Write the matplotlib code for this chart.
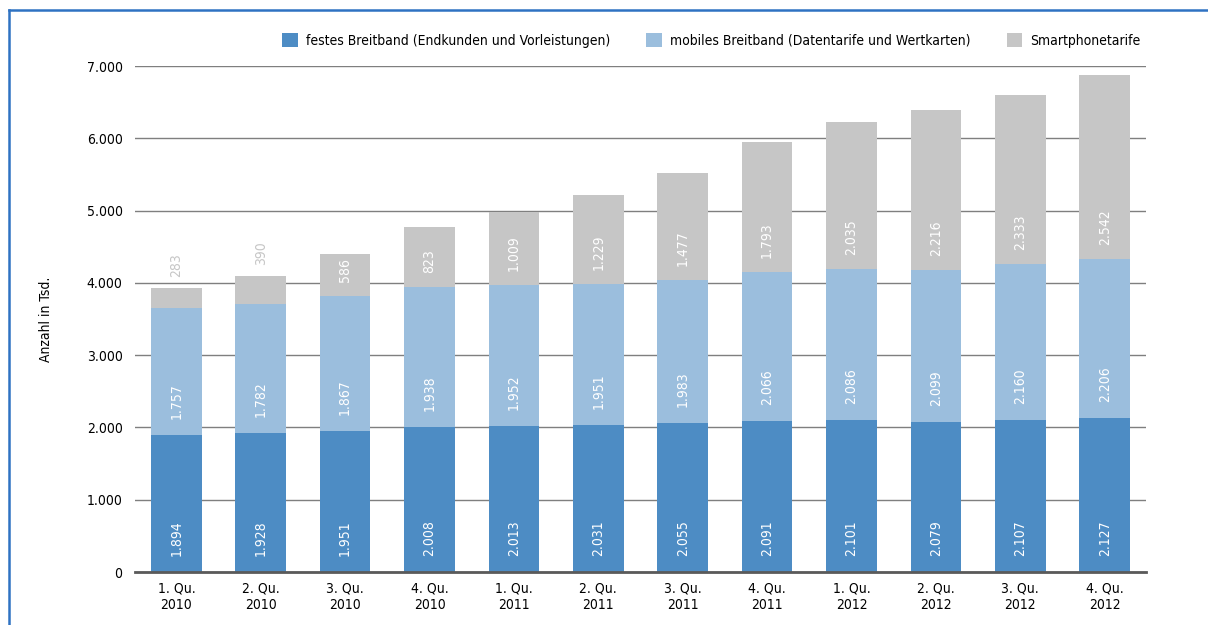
import matplotlib.pyplot as plt
import numpy as np
from matplotlib.lines import Line2D
from matplotlib import font_manager

# Data
quarters = ['1. Qu.\n2010', '2. Qu.\n2010', '3. Qu.\n2010', '4. Qu.\n2010',
            '1. Qu.\n2011', '2. Qu.\n2011', '3. Qu.\n2011', '4. Qu.\n2011',
            '1. Qu.\n2012', '2. Qu.\n2012', '3. Qu.\n2012', '4. Qu.\n2012']
festes = [1894, 1928, 1951, 2008, 2013, 2031, 2055, 2091, 2101, 2079, 2107, 2127]
mobiles = [1757, 1782, 1867, 1938, 1952, 1951, 1983, 2066, 2086, 2099, 2160, 2206]
smart = [283, 390, 586, 823, 1009, 1229, 1477, 1793, 2035, 2216, 2333, 2542]
series_names = ['festes Breitband (Endkunden und Vorleistungen)',
                'mobiles Breitband (Datentarife und Wertkarten)',
                'Smartphonetarife']
yticks = [0, 1000, 2000, 3000, 4000, 5000, 6000, 7000]

colors = ['#4d8cc4', '#9bbedd', '#c6c6c6']

# pick a condensed face if one is installed
condensed = [f for f in font_manager.fontManager.ttflist
             if f.stretch in ('condensed', 'semi-condensed', 'extra-condensed')
             or 'Narrow' in f.name or 'Condensed' in f.name]
plt.rcParams['font.family'] = ['DejaVu Sans']
if condensed:
    plt.rcParams['font.family'] = [condensed[0].name, 'DejaVu Sans']
    plt.rcParams['font.stretch'] = 'condensed'
fs = 10 if condensed else 9


def fmt(v):
    return f'{v:,}'.replace(',', '.')


fig = plt.figure(figsize=(12.08, 6.25), dpi=100)
ax = fig.add_axes([0.1118, 0.0848, 0.8369, 0.8096])

x = np.arange(len(quarters))
w = 0.6
ax.bar(x, festes, w, color=colors[0], label=series_names[0], zorder=2)
ax.bar(x, mobiles, w, bottom=festes, color=colors[1], label=series_names[1], zorder=2)
bottom3 = np.array(festes) + np.array(mobiles)
ax.bar(x, smart, w, bottom=bottom3, color=colors[2], label=series_names[2], zorder=2)

# value labels
for i in range(len(x)):
    ax.annotate(fmt(festes[i]), (x[i], 0), xytext=(0, 16), textcoords='offset pixels',
                rotation=90, ha='center', va='bottom', color='white', fontsize=fs, zorder=3)
    ax.annotate(fmt(mobiles[i]), (x[i], festes[i]), xytext=(0, 16), textcoords='offset pixels',
                rotation=90, ha='center', va='bottom', color='white', fontsize=fs, zorder=3)
    if smart[i] < 500:
        ax.annotate(fmt(smart[i]), (x[i], bottom3[i] + smart[i]), xytext=(0, 11),
                    textcoords='offset pixels', rotation=90, ha='center', va='bottom',
                    color='#c6c6c6', fontsize=fs, zorder=3)
    else:
        ax.annotate(fmt(smart[i]), (x[i], bottom3[i]), xytext=(0, 14), textcoords='offset pixels',
                    rotation=90, ha='center', va='bottom', color='white', fontsize=fs, zorder=3)

ax.set_xlim(-0.49, len(x) - 0.51)
ax.set_ylim(0, 7000)
ax.set_yticks(yticks)
ax.set_yticklabels([fmt(v) for v in yticks], fontsize=fs)
ax.set_xticks(x)
ax.set_xticklabels(quarters, fontsize=fs, linespacing=1.2)
ax.tick_params(axis='both', length=0, colors='black')
ax.tick_params(axis='y', pad=9)
ax.tick_params(axis='x', pad=7)
ax.grid(axis='y', color='#7f7f7f', linewidth=1.0, zorder=0)
ax.set_axisbelow(True)
for s in ['top', 'right', 'left']:
    ax.spines[s].set_visible(False)
ax.spines['bottom'].set_color('#5a5a5a')
ax.spines['bottom'].set_linewidth(2)
ax.spines['bottom'].set_zorder(4)

ax.set_ylabel('Anzahl in Tsd.', fontsize=fs, labelpad=24)

ax.legend(loc='lower right', bbox_to_anchor=(1.0, 1.025), ncol=3, frameon=False,
          fontsize=fs, handlelength=1.1, handleheight=1.1, columnspacing=2.6,
          handletextpad=0.6, borderaxespad=0)

# frame lines of the page
fig.add_artist(Line2D([9 / 1208, 9 / 1208], [0, 1 - 10 / 625], color='#2f72c2', linewidth=1.8))
fig.add_artist(Line2D([9 / 1208, 1], [1 - 10 / 625, 1 - 10 / 625], color='#2f72c2', linewidth=1.8))

fig.savefig('out.png', dpi=100)
